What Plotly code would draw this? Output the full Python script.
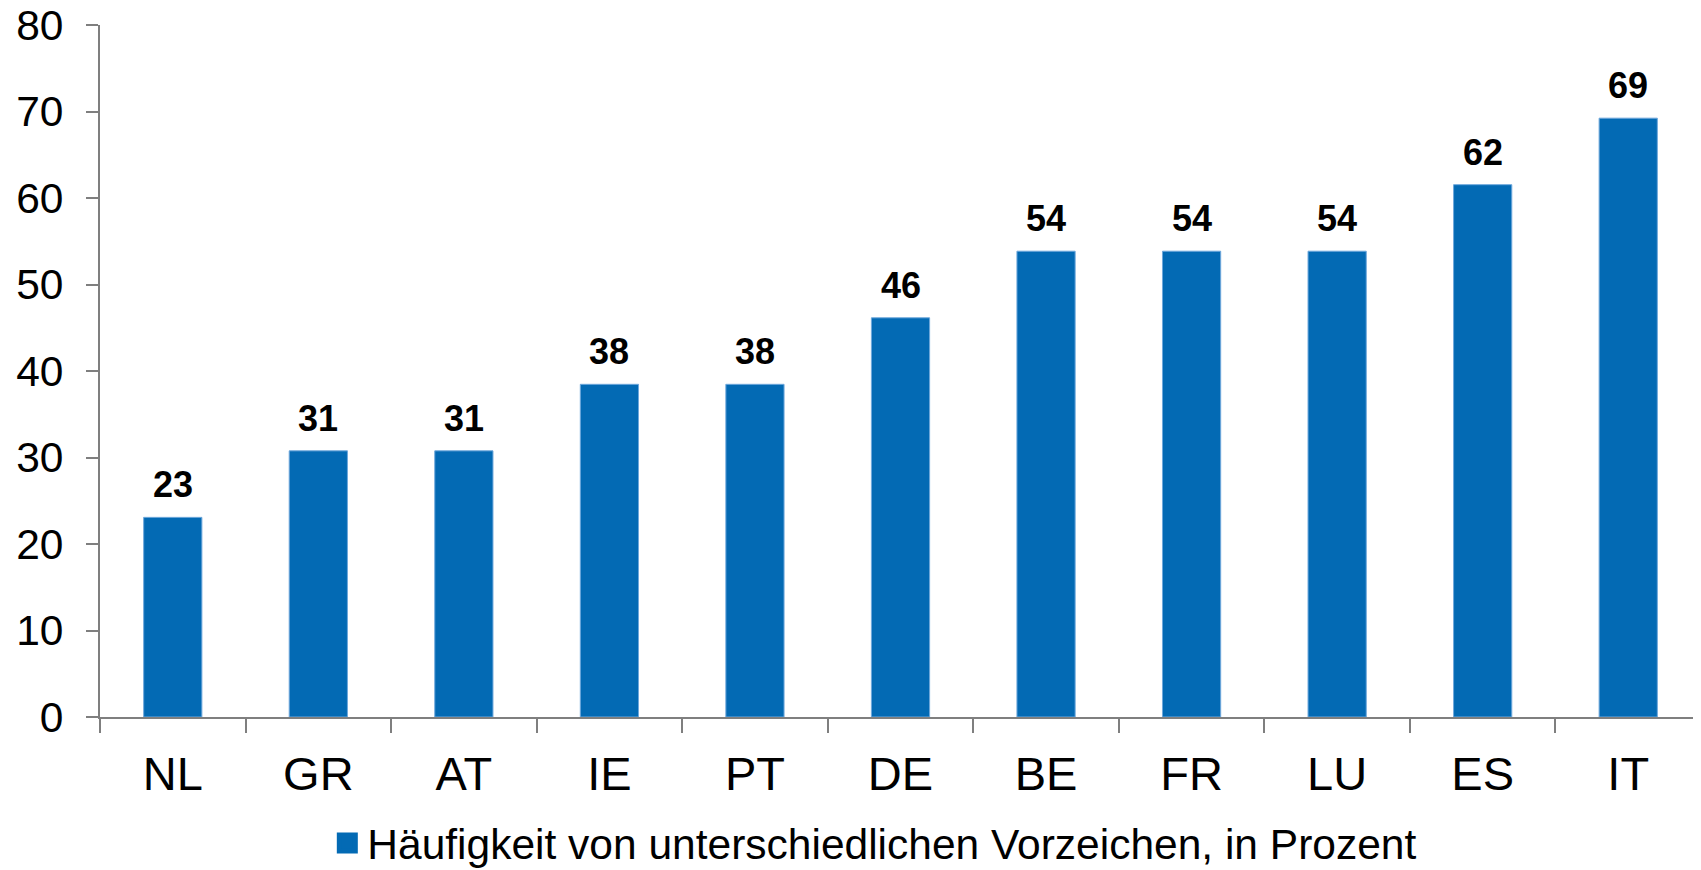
import plotly.graph_objects as go

# Länder und Häufigkeit (in Prozent)
countries = ["NL", "GR", "AT", "IE", "PT", "DE", "BE", "FR", "LU", "ES", "IT"]
share_pct = [23.08, 30.77, 30.77, 38.46, 38.46, 46.15, 53.85, 53.85, 53.85, 61.54, 69.23]
series_name = "Häufigkeit von unterschiedlichen Vorzeichen, in Prozent"
y_ticks = [0, 10, 20, 30, 40, 50, 60, 70, 80]

bar_color = "#036AB4"
axis_color = "#7F7F7F"
font_family = "Arial, Liberation Sans, sans-serif"

fig = go.Figure()
fig.add_trace(go.Bar(
    x=countries,
    y=share_pct,
    name=series_name,
    width=0.4,
    marker=dict(color=bar_color, line=dict(color="#6FA8DC", width=1)),
    showlegend=False,
))

# legend entry with a bigger square than the default bar swatch
fig.add_trace(go.Scatter(
    x=[None],
    y=[None],
    mode="markers",
    name=series_name,
    marker=dict(symbol="square", size=30, color=bar_color,
                line=dict(color=bar_color, width=8)),
    showlegend=True,
))

# value labels above the bars
for c, v in zip(countries, share_pct):
    fig.add_annotation(
        x=c, y=v, text=f"{v:.0f}",
        showarrow=False, yanchor="bottom", yshift=10,
        font=dict(family=font_family, size=36, color="black", weight="bold"),
    )

# page body has an 8px margin, so the figure is a bit smaller than the window
fig.update_layout(
    width=1693,
    height=862,
    paper_bgcolor="white",
    plot_bgcolor="white",
    font=dict(family=font_family, color="black"),
    margin=dict(l=92, r=0, t=17, b=153, autoexpand=False),
    xaxis=dict(
        type="category",
        showline=True,
        linecolor=axis_color,
        linewidth=2,
        ticks="outside",
        tickson="boundaries",
        ticklen=14,
        tickwidth=2,
        tickcolor=axis_color,
        tickfont=dict(size=47),
        ticklabelstandoff=15,
        showgrid=False,
    ),
    yaxis=dict(
        range=[0, 80],
        tickvals=y_ticks,
        showline=True,
        linecolor=axis_color,
        linewidth=2,
        ticks="outside",
        ticklen=12,
        tickwidth=2,
        tickcolor=axis_color,
        tickfont=dict(size=42.5),
        ticklabelstandoff=14,
        ticklabeloverflow="allow",
        showgrid=False,
        zeroline=False,
    ),
    legend=dict(
        orientation="h",
        x=0.512,
        xref="container",
        xanchor="center",
        y=0.031,
        yref="container",
        yanchor="middle",
        font=dict(size=42.5),
        itemwidth=30,
    ),
)

fig.write_html("out.html")
